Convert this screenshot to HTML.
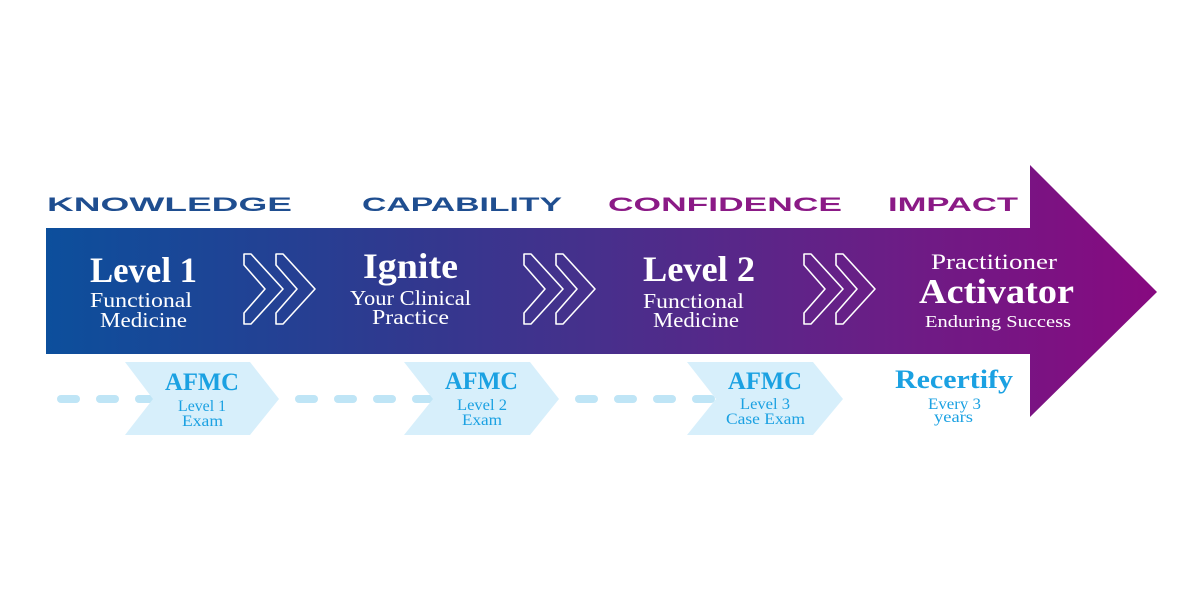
<!DOCTYPE html>
<html>
<head>
<meta charset="utf-8">
<style>
html,body{margin:0;padding:0;background:#fff;}
svg{display:block;}
.serif{font-family:"Liberation Serif",serif;}
.sans{font-family:"Liberation Sans",sans-serif;font-weight:bold;}
</style>
</head>
<body>
<svg width="1200" height="600" viewBox="0 0 1200 600" xmlns="http://www.w3.org/2000/svg">
<defs>
<linearGradient id="g" gradientUnits="userSpaceOnUse" x1="46" y1="0" x2="1157" y2="0">
<stop offset="0" stop-color="#0c4f9c"/>
<stop offset="0.32" stop-color="#30398f"/>
<stop offset="0.49" stop-color="#46308c"/>
<stop offset="0.75" stop-color="#6a1e86"/>
<stop offset="1" stop-color="#870a80"/>
</linearGradient>
</defs>
<rect width="1200" height="600" fill="#fff"/>

<!-- headers -->
<text class="sans" x="47" y="211" font-size="19.5" fill="#1f4e90" textLength="245" lengthAdjust="spacingAndGlyphs">KNOWLEDGE</text>
<text class="sans" x="362" y="211" font-size="19.5" fill="#1f4e90" textLength="200" lengthAdjust="spacingAndGlyphs">CAPABILITY</text>
<text class="sans" x="608" y="211" font-size="19.5" fill="#8b1a86" textLength="234" lengthAdjust="spacingAndGlyphs">CONFIDENCE</text>
<text class="sans" x="888" y="211" font-size="19.5" fill="#8b1a86" textLength="130" lengthAdjust="spacingAndGlyphs">IMPACT</text>

<!-- arrow -->
<polygon points="46,228 1030,228 1030,165 1157,292 1030,417 1030,354 46,354" fill="url(#g)"/>

<!-- chevrons -->
<g fill="none" stroke="#fff" stroke-width="1.6" stroke-linejoin="round">
<polygon points="244,254 251,254 283,289 251,324 244,324 244,313 265,289 244,265"/>
<polygon points="276,254 283,254 315,289 283,324 276,324 276,313 297,289 276,265"/>
<polygon points="524,254 531,254 563,289 531,324 524,324 524,313 545,289 524,265"/>
<polygon points="556,254 563,254 595,289 563,324 556,324 556,313 577,289 556,265"/>
<polygon points="804,254 811,254 843,289 811,324 804,324 804,313 825,289 804,265"/>
<polygon points="836,254 843,254 875,289 843,324 836,324 836,313 857,289 836,265"/>
</g>

<!-- main texts -->
<g class="serif" fill="#fff">
<text x="90" y="282" font-size="36" font-weight="bold" textLength="107" lengthAdjust="spacingAndGlyphs">Level 1</text>
<text x="90" y="307" font-size="21" textLength="102" lengthAdjust="spacingAndGlyphs">Functional</text>
<text x="100" y="327" font-size="21" textLength="87" lengthAdjust="spacingAndGlyphs">Medicine</text>

<text x="363" y="278" font-size="36" font-weight="bold" textLength="95" lengthAdjust="spacingAndGlyphs">Ignite</text>
<text x="350" y="305" font-size="21" textLength="121" lengthAdjust="spacingAndGlyphs">Your Clinical</text>
<text x="372" y="324" font-size="21" textLength="77" lengthAdjust="spacingAndGlyphs">Practice</text>

<text x="643" y="281" font-size="36" font-weight="bold" textLength="112" lengthAdjust="spacingAndGlyphs">Level 2</text>
<text x="643" y="308" font-size="21" textLength="101" lengthAdjust="spacingAndGlyphs">Functional</text>
<text x="653" y="327" font-size="21" textLength="86" lengthAdjust="spacingAndGlyphs">Medicine</text>

<text x="931" y="269" font-size="22" textLength="126" lengthAdjust="spacingAndGlyphs">Practitioner</text>
<text x="919" y="303" font-size="35" font-weight="bold" textLength="155" lengthAdjust="spacingAndGlyphs">Activator</text>
<text x="925" y="327" font-size="17" textLength="146" lengthAdjust="spacingAndGlyphs">Enduring Success</text>
</g>

<!-- dashes -->
<g fill="#bfe5f6">
<rect x="57" y="395" width="23" height="8" rx="4"/>
<rect x="96" y="395" width="23" height="8" rx="4"/>
<rect x="135" y="395" width="23" height="8" rx="4"/>
<rect x="295" y="395" width="23" height="8" rx="4"/>
<rect x="334" y="395" width="23" height="8" rx="4"/>
<rect x="373" y="395" width="23" height="8" rx="4"/>
<rect x="412" y="395" width="23" height="8" rx="4"/>
<rect x="575" y="395" width="23" height="8" rx="4"/>
<rect x="614" y="395" width="23" height="8" rx="4"/>
<rect x="653" y="395" width="23" height="8" rx="4"/>
<rect x="692" y="395" width="23" height="8" rx="4"/>
</g>

<!-- light chevron shapes -->
<g fill="#d7effb">
<polygon points="125,362 250,362 279,399 250,435 125,435 153,399"/>
<polygon points="404,362 530,362 559,399 530,435 404,435 433,399"/>
<polygon points="687,362 813,362 843,399 813,435 687,435 716,399"/>
</g>

<!-- bottom texts -->
<g class="serif" fill="#1ba1e2">
<text x="165" y="390" font-size="25" font-weight="bold" textLength="74" lengthAdjust="spacingAndGlyphs">AFMC</text>
<text x="178" y="411" font-size="16" textLength="48" lengthAdjust="spacingAndGlyphs">Level 1</text>
<text x="182" y="426" font-size="16" textLength="41" lengthAdjust="spacingAndGlyphs">Exam</text>

<text x="445" y="389" font-size="25" font-weight="bold" textLength="73" lengthAdjust="spacingAndGlyphs">AFMC</text>
<text x="457" y="410" font-size="16" textLength="50" lengthAdjust="spacingAndGlyphs">Level 2</text>
<text x="462" y="425" font-size="16" textLength="40" lengthAdjust="spacingAndGlyphs">Exam</text>

<text x="728" y="389" font-size="25" font-weight="bold" textLength="74" lengthAdjust="spacingAndGlyphs">AFMC</text>
<text x="740" y="409" font-size="16" textLength="50" lengthAdjust="spacingAndGlyphs">Level 3</text>
<text x="726" y="424" font-size="16" textLength="79" lengthAdjust="spacingAndGlyphs">Case Exam</text>

<text x="895" y="388" font-size="26" font-weight="bold" textLength="118" lengthAdjust="spacingAndGlyphs">Recertify</text>
<text x="928" y="409" font-size="16" textLength="53" lengthAdjust="spacingAndGlyphs">Every 3</text>
<text x="934" y="422" font-size="16" textLength="39" lengthAdjust="spacingAndGlyphs">years</text>
</g>
</svg>
</body>
</html>
